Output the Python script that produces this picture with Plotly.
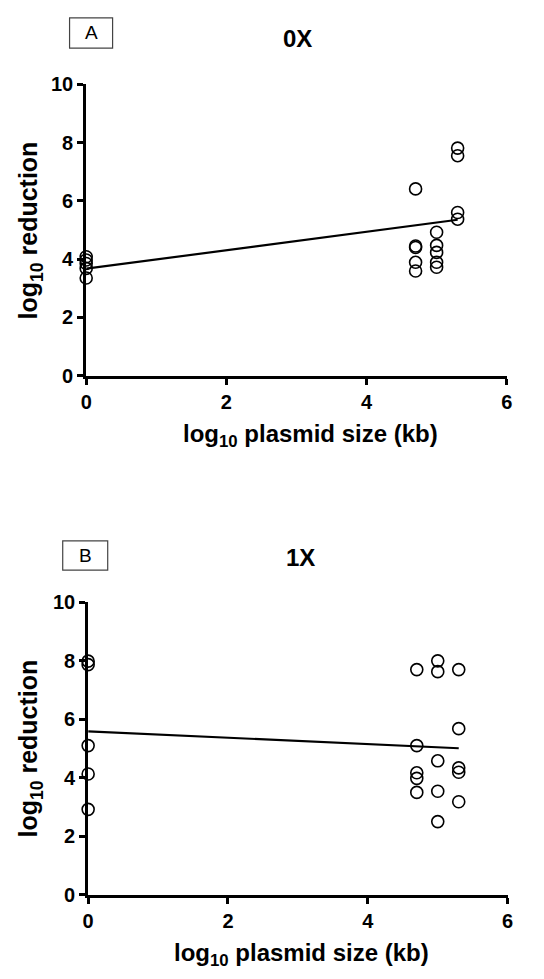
import plotly.graph_objects as go

# ---- data ----
xA = [0, 0, 0, 0, 0,
      4.7, 4.7, 4.7, 4.7, 4.7,
      5.0, 5.0, 5.0, 5.0, 5.0,
      5.3, 5.3, 5.3, 5.3]
yA = [4.08, 3.97, 3.85, 3.68, 3.35,
      6.41, 4.45, 4.40, 3.89, 3.59,
      4.92, 4.47, 4.23, 3.89, 3.72,
      7.81, 7.55, 5.60, 5.37]
fitA_x = [0, 5.3]
fitA_y = [3.67, 5.35]

xB = [0, 0, 0, 0, 0,
      4.7, 4.7, 4.7, 4.7, 4.7,
      5.0, 5.0, 5.0, 5.0, 5.0,
      5.3, 5.3, 5.3, 5.3, 5.3]
yB = [7.99, 7.87, 5.10, 4.13, 2.92,
      7.70, 5.10, 4.17, 3.98, 3.50,
      8.00, 7.63, 4.58, 3.54, 2.50,
      7.70, 5.68, 4.34, 4.19, 3.18]
fitB_x = [0, 5.3]
fitB_y = [5.59, 5.01]

x_ticks = [0, 2, 4, 6]
y_ticks = [0, 2, 4, 6, 8, 10]
titles = ["0X", "1X"]
panel_labels = ["A", "B"]
x_title = "<b>log<sub>10</sub> plasmid size (kb)</b>"
y_title = "<b>log<sub>10</sub> reduction</b>"

W, H = 544, 979
FONT = "Arial, 'Liberation Sans', sans-serif"

fig = go.Figure()

def px_x(p):
    return p / W

def px_y(p):
    return 1 - p / H

panels = [
    dict(x=xA, y=yA, fx=fitA_x, fy=fitA_y, xa="x", ya="y",
         left=82, right=512, top=75, bottom=373,
         title_xy=(298, 28), xt_xy=(311, 434), yt_xy=(25, 224),
         lab_box=(65, 109, 7, 38)),
    dict(x=xB, y=yB, fx=fitB_x, fy=fitB_y, xa="x2", ya="y2",
         left=84, right=513, top=605, bottom=904,
         title_xy=(301, 559), xt_xy=(302, 965), yt_xy=(25, 754),
         lab_box=(58, 104, 542, 572)),
]

for i, p in enumerate(panels):
    fig.add_trace(go.Scatter(
        x=p["fx"], y=p["fy"], mode="lines", xaxis=p["xa"], yaxis=p["ya"],
        line=dict(color="black", width=2.2), showlegend=False, hoverinfo="skip"))
    fig.add_trace(go.Scatter(
        x=p["x"], y=p["y"], mode="markers", xaxis=p["xa"], yaxis=p["ya"],
        marker=dict(symbol="circle-open", size=12, color="black",
                    line=dict(width=1.6, color="black")),
        cliponaxis=False, showlegend=False))

    sfx = "" if i == 0 else "2"
    axis_common = dict(
        showline=True, linecolor="black", linewidth=3, mirror=False,
        ticks="outside", ticklen=6, tickwidth=3, tickcolor="black",
        showgrid=False, zeroline=False,
        tickfont=dict(family=FONT, size=20, color="black", weight="bold"),
    )
    fig.layout["xaxis" + sfx] = dict(
        axis_common, range=[0, 6], tickvals=x_ticks,
        domain=[px_x(p["left"]), px_x(p["right"])],
        anchor="y" + sfx,
    )
    fig.layout["yaxis" + sfx] = dict(
        axis_common, range=[0, 10], tickvals=y_ticks,
        domain=[px_y(p["bottom"]), px_y(p["top"])],
        anchor="x" + sfx,
    )

    # panel title
    fig.add_annotation(
        x=px_x(p["title_xy"][0]), y=px_y(p["title_xy"][1]),
        xref="paper", yref="paper",
        text="<b>" + titles[i] + "</b>", showarrow=False,
        font=dict(family=FONT, size=24, color="black"),
        xanchor="center", yanchor="middle")
    # x-axis title
    fig.add_annotation(
        x=px_x(p["xt_xy"][0]), y=px_y(p["xt_xy"][1]),
        xref="paper", yref="paper",
        text=x_title, showarrow=False,
        font=dict(family=FONT, size=24, color="black"),
        xanchor="center", yanchor="middle")
    # y-axis title
    fig.add_annotation(
        x=px_x(p["yt_xy"][0]), y=px_y(p["yt_xy"][1]),
        xref="paper", yref="paper",
        text=y_title, showarrow=False, textangle=-90,
        font=dict(family=FONT, size=25, color="black"),
        xanchor="center", yanchor="middle")
    # panel label box
    l, r, t, b = p["lab_box"]
    fig.add_shape(type="rect", xref="paper", yref="paper",
                  x0=px_x(l), x1=px_x(r), y0=px_y(b), y1=px_y(t),
                  line=dict(color="#444444", width=1.2))
    fig.add_annotation(
        x=px_x((l + r) / 2), y=px_y((t + b) / 2), xref="paper", yref="paper",
        text=panel_labels[i], showarrow=False,
        font=dict(family=FONT, size=19, color="black"),
        xanchor="center", yanchor="middle")

fig.update_layout(
    width=W, height=H,
    margin=dict(l=0, r=0, t=0, b=0),
    paper_bgcolor="white", plot_bgcolor="white",
    showlegend=False,
)

fig.write_html(
    "out.html",
    config={"displayModeBar": False},
    post_script="document.body.style.margin='0';document.body.style.overflow='hidden';",
)
